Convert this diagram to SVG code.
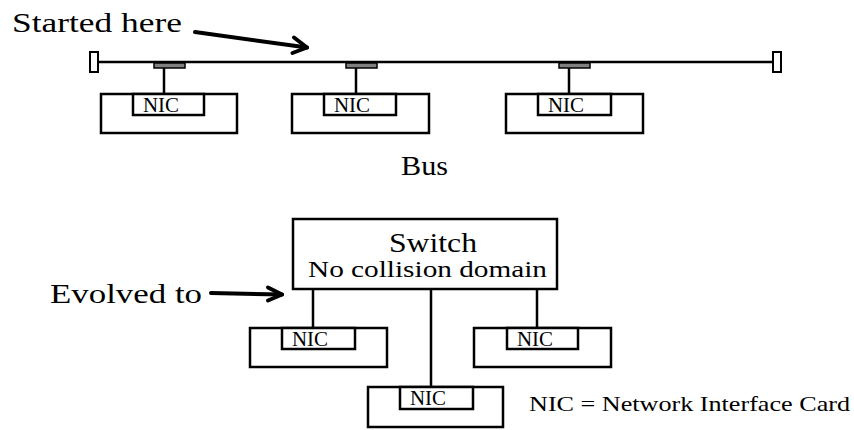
<svg xmlns="http://www.w3.org/2000/svg" width="854" height="430" viewBox="0 0 854 430">
  <style>
    .box { fill: #ffffff; stroke: #000000; stroke-width: 2.5; }
    .wire { stroke: #000000; stroke-width: 2.5; fill: none; }
    .tap { fill: #7f7f7f; stroke: #000000; stroke-width: 1.5; }
    .term { fill: #ffffff; stroke: #000000; stroke-width: 2; }
    .pointer { stroke: #000000; stroke-width: 4; fill: none; stroke-linecap: round; stroke-linejoin: round; }
    .label { font-family: "Liberation Serif", "Times New Roman", serif; fill: #000000; }
    .nic { font-family: "Liberation Serif", "Times New Roman", serif; font-size: 20px; fill: #000000; }
  </style>

  <!-- Bus topology -->
  <g id="bus">
    <line class="wire" x1="98" y1="62" x2="773" y2="62"/>
    <rect class="term" x="90" y="52" width="8" height="20"/>
    <rect class="term" x="773" y="52" width="8" height="20"/>
    <rect class="tap" x="154" y="63" width="31" height="5"/>
    <rect class="tap" x="346" y="63" width="31" height="5"/>
    <rect class="tap" x="559" y="63" width="31" height="5"/>
  </g>

  <g id="connectors">
    <!-- bus drops -->
    <line class="wire" x1="164" y1="68" x2="164" y2="94"/>
    <line class="wire" x1="356" y1="68" x2="356" y2="94"/>
    <line class="wire" x1="569" y1="68" x2="569" y2="94"/>
    <!-- switch ports -->
    <line class="wire" x1="313" y1="289" x2="313" y2="328"/>
    <line class="wire" x1="431" y1="289" x2="431" y2="387"/>
    <line class="wire" x1="537" y1="289" x2="537" y2="328"/>
    <!-- pointer arrows -->
    <line class="pointer" x1="195" y1="32" x2="307" y2="47.5"/>
    <polyline class="pointer" points="294,37.5 307,47.5 292.5,53"/>
    <line class="pointer" x1="211" y1="293" x2="282" y2="294.5"/>
    <polyline class="pointer" points="268,287.5 282,294.5 268,300.5"/>
  </g>

  <!-- Hosts on the bus -->
  <g id="host-bus-1">
    <rect class="box" x="101" y="94" width="136" height="39"/>
    <rect class="box" x="133" y="94" width="71" height="21"/>
    <text class="nic" x="143" y="112" textLength="36" lengthAdjust="spacingAndGlyphs">NIC</text>
  </g>
  <g id="host-bus-2">
    <rect class="box" x="292" y="94" width="137" height="39"/>
    <rect class="box" x="324" y="94" width="72" height="21"/>
    <text class="nic" x="334" y="112" textLength="36" lengthAdjust="spacingAndGlyphs">NIC</text>
  </g>
  <g id="host-bus-3">
    <rect class="box" x="506" y="94" width="137" height="39"/>
    <rect class="box" x="538" y="94" width="73" height="21"/>
    <text class="nic" x="548" y="112" textLength="36" lengthAdjust="spacingAndGlyphs">NIC</text>
  </g>

  <!-- Switch -->
  <g id="switch">
    <rect class="box" x="293" y="219" width="264" height="70"/>
    <text class="label" x="389" y="252" font-size="28" textLength="88" lengthAdjust="spacingAndGlyphs">Switch</text>
    <text class="label" x="308" y="277" font-size="24" textLength="239" lengthAdjust="spacingAndGlyphs">No collision domain</text>
  </g>

  <!-- Hosts on the switch -->
  <g id="host-sw-left">
    <rect class="box" x="250" y="328" width="137" height="39"/>
    <rect class="box" x="282" y="328" width="73" height="21"/>
    <text class="nic" x="292" y="346" textLength="36" lengthAdjust="spacingAndGlyphs">NIC</text>
  </g>
  <g id="host-sw-right">
    <rect class="box" x="474" y="328" width="137" height="39"/>
    <rect class="box" x="507" y="328" width="71" height="21"/>
    <text class="nic" x="517" y="346" textLength="36" lengthAdjust="spacingAndGlyphs">NIC</text>
  </g>
  <g id="host-sw-bottom">
    <rect class="box" x="368" y="387" width="135" height="40"/>
    <rect class="box" x="400" y="387" width="73" height="22"/>
    <text class="nic" x="410" y="405" textLength="36" lengthAdjust="spacingAndGlyphs">NIC</text>
  </g>

  <!-- Captions -->
  <g id="captions">
    <text class="label" x="12" y="32" font-size="27" textLength="170" lengthAdjust="spacingAndGlyphs">Started here</text>
    <text class="label" x="401" y="175" font-size="27" textLength="47" lengthAdjust="spacingAndGlyphs">Bus</text>
    <text class="label" x="50" y="303" font-size="28" textLength="152" lengthAdjust="spacingAndGlyphs">Evolved to</text>
    <text class="label" x="529" y="411" font-size="21" textLength="321" lengthAdjust="spacingAndGlyphs">NIC = Network Interface Card</text>
  </g>
</svg>
